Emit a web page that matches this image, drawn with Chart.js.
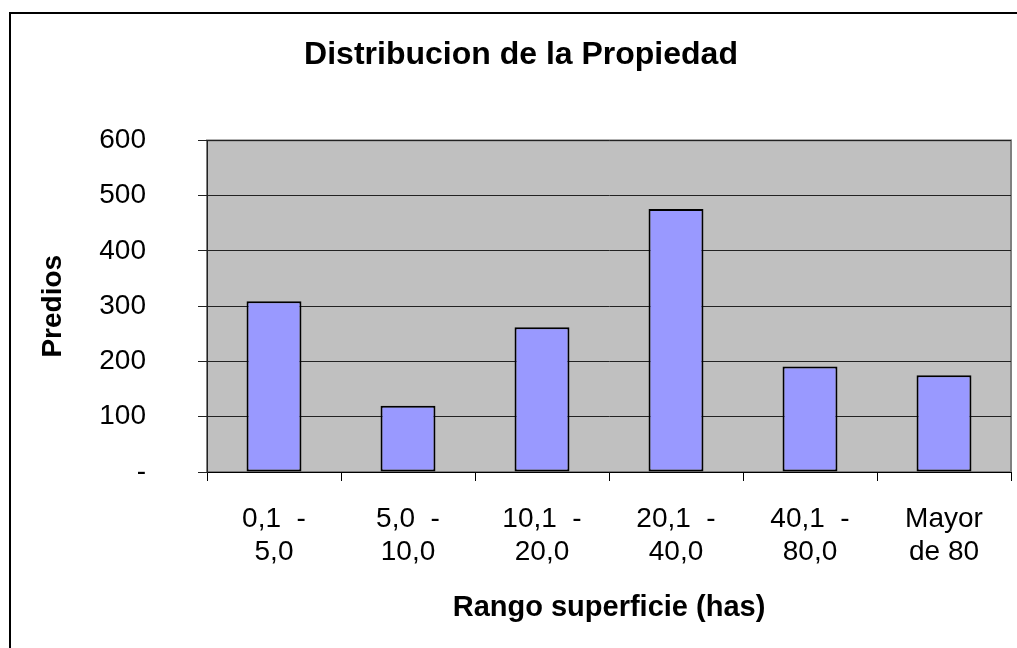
<!DOCTYPE html>
<html>
<head>
<meta charset="utf-8">
<script src="https://cdn.jsdelivr.net/npm/chart.js@4"></script>
<style>
    body { margin: 0; background: #fff; overflow: hidden; }
    #frame { position: absolute; left: 9px; top: 12px; width: 1040px; height: 660px;
             border-left: 2px solid #000; border-top: 2px solid #000; }
    #myChart { position: absolute; left: 0; top: 0; }
</style>
</head>
<body>
<div id="frame"><canvas id="myChart" width="1020" height="634"></canvas></div>
<script>
var categorias = [
    ['0,1  -', '5,0'],
    ['5,0  -', '10,0'],
    ['10,1  -', '20,0'],
    ['20,1  -', '40,0'],
    ['40,1  -', '80,0'],
    ['Mayor', 'de 80']
];
var predios = [309, 120, 262, 476, 191, 175];
var ticksY = [0, 100, 200, 300, 400, 500, 600];

var fuente = "'Liberation Sans', Arial, sans-serif";

// fondo gris del area de trazado
var fondoPlot = {
    id: 'fondoPlot',
    beforeDraw: function (chart) {
        var a = chart.chartArea;
        var ctx = chart.ctx;
        ctx.save();
        ctx.fillStyle = '#C0C0C0';
        ctx.fillRect(a.left, a.top, a.right - a.left, a.bottom - a.top);
        ctx.strokeStyle = '#808080';
        ctx.lineWidth = 2;
        ctx.strokeRect(a.left, a.top, a.right - a.left, a.bottom - a.top);
        ctx.restore();
    }
};

var config = {
    type: 'bar',
    data: {
        labels: categorias,
        datasets: [{
            data: predios,
            backgroundColor: '#9999FF',
            borderColor: '#000000',
            borderWidth: 2,
            borderSkipped: false,
            categoryPercentage: 1,
            barPercentage: 0.41
        }]
    },
    options: {
        responsive: false,
        animation: false,
        layout: { padding: 0 },
        plugins: {
            legend: { display: false },
            tooltip: { enabled: false },
            title: {
                display: true,
                text: 'Distribucion de la Propiedad',
                color: '#000',
                font: { family: fuente, size: 32, weight: 'bold' },
                padding: { top: 22, bottom: 66 }
            }
        },
        scales: {
            x: {
                afterFit: function (scale) { scale.height = 176; },
                grid: { display: true, drawOnChartArea: false, offset: true, tickLength: 9, color: '#000' },
                border: { color: '#000', width: 1 },
                ticks: {
                    color: '#000',
                    autoSkip: false,
                    maxRotation: 0,
                    padding: 21,
                    font: { family: fuente, size: 28 }
                },
                title: {
                    display: true,
                    text: 'Rango superficie (has)',
                    color: '#000',
                    font: { family: fuente, size: 29, weight: 'bold' },
                    padding: { top: 0, bottom: 23 }
                }
            },
            y: {
                min: 0,
                max: 600,
                afterFit: function (scale) { scale.width = 196; },
                afterBuildTicks: function (scale) {
                    scale.ticks = ticksY.map(function (v) { return { value: v }; });
                },
                grid: { color: '#222', lineWidth: 1, tickLength: 9 },
                border: { color: '#222', width: 1 },
                ticks: {
                    color: '#000',
                    padding: 52,
                    font: { family: fuente, size: 28 },
                    callback: function (value) { return value === 0 ? '-' : value; }
                },
                title: {
                    display: true,
                    text: 'Predios',
                    color: '#000',
                    font: { family: fuente, size: 28, weight: 'bold' },
                    padding: { top: 25, bottom: 0 }
                }
            },
            // eje vacio a la derecha, solo reserva el margen
            margen: {
                position: 'right',
                min: 0,
                max: 600,
                afterFit: function (scale) { scale.width = 20; },
                grid: { display: false },
                border: { display: false },
                ticks: { display: false }
            }
        }
    },
    plugins: [fondoPlot]
};

var myChart = new Chart(document.getElementById('myChart'), config);
</script>
</body>
</html>
